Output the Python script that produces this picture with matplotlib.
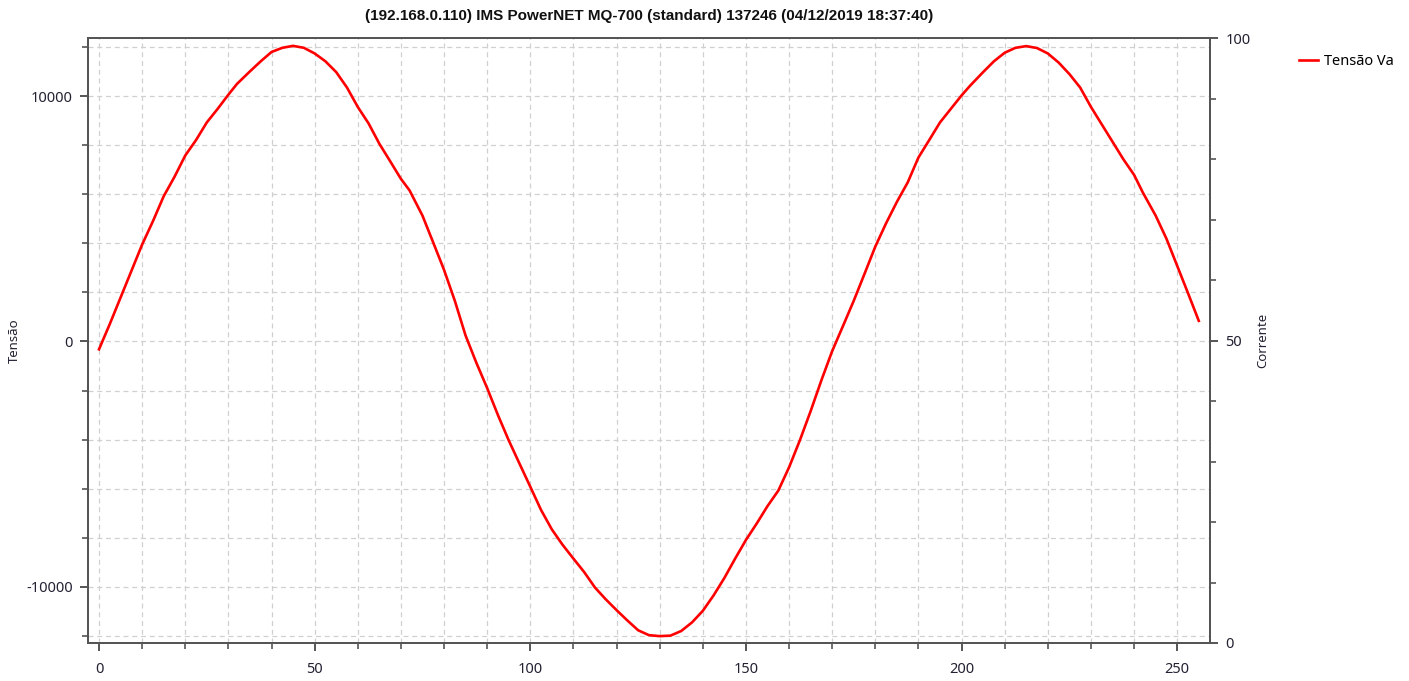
from matplotlib import pyplot as plt
from matplotlib.ticker import MultipleLocator

# amostras (indice da amostra, tensao)
amostra = [0, 2.5, 5, 7.5, 10, 12.5, 15, 17.5, 20, 22.5, 25, 27.5, 30, 32,
           35, 37.5, 40, 42.5, 45, 47.5, 50, 52.5, 55, 57.5, 60, 62.5, 65,
           67.5, 70, 72, 75, 77.5, 80, 82.5, 85, 87.5, 90, 92.5, 95, 97.5,
           100, 102.5, 105, 107.5, 110, 112.5, 115, 117.5, 120, 122.5, 125,
           127.5, 130, 132.5, 135, 137.5, 140, 142.5, 145, 147.5, 150, 152.5,
           155, 157.5, 160, 162.5, 165, 167.5, 170, 172.5, 175, 177.5, 180,
           182.5, 185, 187.5, 190, 192.5, 195, 197.5, 200, 202, 205, 207.5,
           210, 212.5, 215, 217.5, 220, 222.5, 225, 227.5, 230, 232.5, 235,
           237.5, 240, 242, 245, 247.5, 250, 252.5, 255]
tensao_va = [-320, 710, 1790, 2870, 3950, 4900, 5920, 6710, 7580, 8210, 8930,
             9480, 10060, 10500, 11010, 11420, 11800, 11970, 12050, 11970,
             11740, 11420, 10980, 10350, 9560, 8890, 8060, 7350, 6630, 6160,
             5130, 4030, 2920, 1660, 240, -870, -1900, -3000, -4030, -4980,
             -5920, -6870, -7660, -8290, -8850, -9400, -10030, -10510,
             -10950, -11370, -11770, -11970, -12010, -11990, -11800, -11450,
             -10980, -10350, -9640, -8850, -8090, -7420, -6710, -6080, -5130,
             -4030, -2840, -1580, -390, 630, 1660, 2760, 3870, 4820, 5690,
             6480, 7500, 8210, 8930, 9480, 10030, 10430, 10980, 11420, 11770,
             11970, 12040, 11960, 11740, 11370, 10900, 10350, 9560, 8850,
             8140, 7430, 6790, 6080, 5130, 4190, 3080, 1970, 840]

titulo = '(192.168.0.110) IMS PowerNET MQ-700 (standard) 137246 (04/12/2019 18:37:40)'

plt.rcParams['font.family'] = ['Noto Sans', 'DejaVu Sans']
plt.rcParams['axes.unicode_minus'] = False
texto = '#222233'
borda = '#555555'


def main():
    fig = plt.figure(figsize=(14.09, 6.81), dpi=100)
    ax = fig.add_axes([88 / 1409, 38 / 681, 1122 / 1409, 605 / 681])

    ax.plot(amostra, tensao_va, color='#ff0000', lw=1.9, label='Tensão Va',
            zorder=5)

    ax.set_xlim(-2.55, 257.6)
    ax.set_ylim(-12290, 12370)
    ax.xaxis.set_major_locator(MultipleLocator(50))
    ax.xaxis.set_minor_locator(MultipleLocator(10))
    ax.yaxis.set_major_locator(MultipleLocator(10000))
    ax.yaxis.set_minor_locator(MultipleLocator(2000))
    ax.grid(which='both', color='#d0d0d0', ls=(0, (4, 3)), lw=0.9)
    ax.set_axisbelow(True)

    ax2 = ax.twinx()
    ax2.set_ylim(0, 100)
    ax2.yaxis.set_major_locator(MultipleLocator(50))
    ax2.yaxis.set_minor_locator(MultipleLocator(10))

    for a in (ax, ax2):
        for s in a.spines.values():
            s.set_color(borda)
            s.set_linewidth(1.4)
        a.tick_params(which='major', length=6, width=1.4, color=borda,
                      labelsize=10.5, labelcolor=texto, pad=5)
        a.tick_params(which='minor', length=4, width=1.2, color=borda)
    ax.spines['top'].set_color('#888888')
    ax.tick_params(axis='x', which='major', pad=8)

    ax.set_ylabel('Tensão', fontsize=9.5, color=texto)
    ax.yaxis.set_label_coords(-0.0597, 0.5)
    ax2.set_ylabel('Corrente', fontsize=9.5, color=texto)
    ax2.yaxis.set_label_coords(1.041, 0.5)
    ax.set_title(titulo, fontsize=11, fontweight='bold', color='#111111',
                 family='Liberation Sans', pad=13)

    fig.legend(loc='upper left', bbox_to_anchor=(1293 / 1409, 1 - 48 / 681),
               frameon=False, fontsize=10.5, handlelength=1.3,
               handletextpad=0.4, borderaxespad=0)

    fig.savefig('out.png', dpi=100)


if __name__ == '__main__':
    main()
